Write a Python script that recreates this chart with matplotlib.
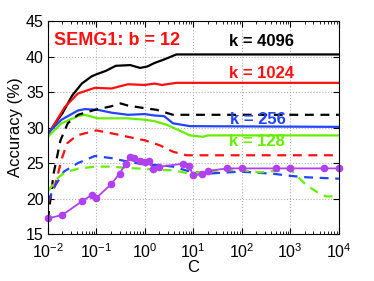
import numpy as np
import matplotlib
matplotlib.use("Agg")
import matplotlib.pyplot as plt
from matplotlib.ticker import LogLocator, NullFormatter, FixedLocator

plt.rcParams['font.family'] = ['Liberation Sans', 'DejaVu Sans']
plt.rcParams['mathtext.fontset'] = 'custom'
plt.rcParams['mathtext.rm'] = 'Liberation Sans'
plt.rcParams['mathtext.default'] = 'regular'

# ---- data (log10 C, accuracy %) ----
k4096_logc = [-2.0, -1.85, -1.7, -1.5, -1.3, -1.1, -1.0, -0.8, -0.6, -0.3, -0.1, 0.05, 0.2, 0.4, 0.65, 4.0]
k4096_acc = [29.0, 30.6, 32.0, 34.5, 36.2, 37.2, 37.5, 38.0, 38.7, 38.8, 38.4, 38.6, 39.1, 39.6, 40.3, 40.3]

k1024_logc = [-2.0, -1.65, -1.38, -1.03, -0.69, -0.35, 0.0, 0.2, 0.35, 0.65, 4.0]
k1024_acc = [29.0, 32.9, 34.8, 35.6, 35.5, 36.1, 36.0, 36.2, 36.0, 36.3, 36.3]

k256_logc = [-2.0, -1.72, -1.38, -1.24, -0.97, -0.69, -0.35, 0.0, 0.2, 0.4, 0.58, 0.93, 4.0]
k256_acc = [29.2, 31.1, 32.4, 32.6, 32.5, 32.1, 31.8, 31.9, 31.7, 31.6, 30.6, 30.2, 30.1]

k128_logc = [-2.0, -1.72, -1.38, -1.24, -0.97, -0.35, 0.0, 0.2, 0.45, 0.93, 1.2, 1.3, 4.0]
k128_acc = [28.7, 30.6, 31.6, 31.8, 31.3, 31.3, 31.1, 30.9, 30.4, 28.9, 28.7, 28.9, 28.9]

k4096d_logc = [-2.0, -1.88, -1.74, -1.59, -1.38, -1.03, -0.69, -0.5, -0.35, -0.07, 0.24, 0.58, 4.0]
k4096d_acc = [17.0, 23.6, 28.2, 30.6, 31.8, 32.5, 33.0, 33.4, 33.1, 32.8, 32.5, 31.8, 31.8]

k1024d_logc = [-2.0, -1.86, -1.7, -1.6, -1.4, -1.0, -0.69, -0.35, 0.0, 0.31, 0.58, 0.86, 4.0]
k1024d_acc = [19.4, 21.7, 25.9, 27.8, 28.9, 29.6, 29.2, 28.7, 28.2, 27.5, 26.6, 26.1, 26.1]

k256d_logc = [-2.0, -1.86, -1.67, -1.38, -1.03, -0.69, -0.35, 0.0, 0.31, 0.58, 0.93, 1.27, 1.96, 2.64, 3.0, 3.33, 4.0]
k256d_acc = [19.6, 21.7, 23.8, 25.0, 26.0, 25.7, 25.2, 24.8, 24.7, 24.5, 23.8, 23.5, 23.8, 23.5, 23.2, 23.0, 22.8]

k128d_logc = [-2.0, -1.81, -1.65, -1.38, -1.03, -0.69, -0.35, 0.0, 0.31, 0.58, 0.93, 1.27, 1.6, 2.0, 2.37, 2.85, 3.0, 3.33, 3.6, 3.74, 4.0]
k128d_acc = [21.0, 22.8, 23.7, 24.2, 24.5, 24.5, 24.3, 24.2, 24.0, 24.0, 23.5, 23.8, 24.0, 24.0, 23.7, 24.0, 24.1, 21.9, 20.7, 20.3, 20.3]

base_c = [0.01, 0.02, 0.05, 0.08, 0.1, 0.2, 0.3, 0.4, 0.5, 0.6, 0.8, 1, 1.2, 1.5, 2,
          6, 8, 10, 15, 20, 50, 100, 500, 1000, 5000, 10000]
base_acc = [17.2, 17.7, 19.6, 20.5, 20.1, 22.0, 23.5, 24.9, 25.9, 25.7, 25.3, 25.1, 25.3, 24.2, 24.5,
            24.9, 24.6, 23.3, 23.4, 23.9, 24.25, 24.25, 24.25, 24.25, 24.25, 24.25]

c_black = '#000000'
c_red = '#ff1010'
c_blue = '#2244ff'
c_green = '#66ee00'
c_mag = '#b040f0'

fig = plt.figure(figsize=(3.74, 2.81), dpi=100)
ax = fig.add_axes([0.128, 0.167, 0.778, 0.758])

def C(l):
    return 10.0 ** np.array(l)

lw = 1.6
ax.plot(C(k4096_logc), k4096_acc, '-', color=c_black, lw=lw)
ax.plot(C(k1024_logc), k1024_acc, '-', color=c_red, lw=lw)
ax.plot(C(k256_logc), k256_acc, '-', color=c_blue, lw=lw)
ax.plot(C(k128_logc), k128_acc, '-', color=c_green, lw=lw)
ax.plot(C(k4096d_logc), k4096d_acc, '--', color=c_black, lw=lw, dashes=(4, 3))
ax.plot(C(k1024d_logc), k1024d_acc, '--', color=c_red, lw=lw, dashes=(4, 3))
ax.plot(C(k256d_logc), k256d_acc, '--', color=c_blue, lw=lw, dashes=(4, 3))
ax.plot(C(k128d_logc), k128d_acc, '--', color=c_green, lw=lw, dashes=(4, 3))
ax.plot(base_c, base_acc, '-o', color=c_mag, lw=1.3, ms=4.5, mec=c_mag, mfc=c_mag, clip_on=False)

ax.set_xscale('log')
ax.set_xlim(1e-2, 1e4)
ax.set_ylim(15, 45)
ax.set_yticks([15, 20, 25, 30, 35, 40, 45])
ax.xaxis.set_major_locator(FixedLocator([1e-2, 1e-1, 1, 1e1, 1e2, 1e3, 1e4]))
ax.xaxis.set_minor_locator(LogLocator(base=10, subs=np.arange(2, 10), numticks=20))
ax.xaxis.set_minor_formatter(NullFormatter())
ax.tick_params(which='both', direction='in', top=True, right=True, labelsize=11.5)
ax.tick_params(which='major', length=4)
ax.tick_params(which='minor', length=2)
ax.tick_params(axis='x', which='major', pad=6)
ax.tick_params(axis='y', which='major', pad=3)
ax.grid(True, which='major', linestyle=':', color='#b0b0b0', linewidth=0.8)
for s in ax.spines.values():
    s.set_linewidth(0.8)

ax.set_xlabel('C', fontsize=12, labelpad=-1)
ax.set_ylabel('Accuracy (%)', fontsize=12, labelpad=2)

ax.text(10**-1.87, 42.3, 'SEMG1: b = 12', color=c_red, fontsize=13, fontweight='bold', ha='left', va='center')
ax.text(10**2.41, 42.1, 'k = 4096', color=c_black, fontsize=12, fontweight='bold', ha='center', va='center')
ax.text(10**2.41, 37.6, 'k = 1024', color=c_red, fontsize=12, fontweight='bold', ha='center', va='center')
ax.text(10**2.33, 31.2, 'k = 256', color=c_blue, fontsize=12, fontweight='bold', ha='center', va='center')
ax.text(10**2.31, 28.1, 'k = 128', color=c_green, fontsize=12, fontweight='bold', ha='center', va='center')

fig.savefig('out.png', dpi=100)
